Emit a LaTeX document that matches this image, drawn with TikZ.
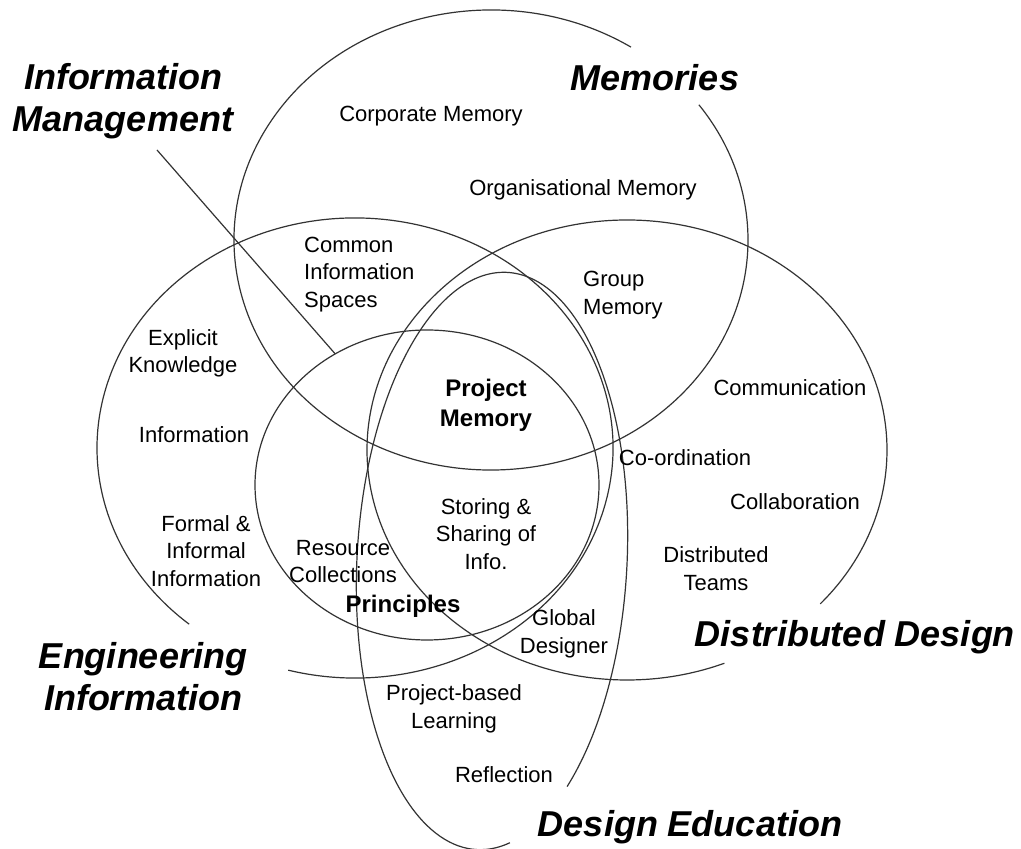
\documentclass[tikz,border=0pt]{standalone}
\usepackage{fontspec}
\setmainfont{Liberation Sans}
\usepackage{tikz}
\usetikzlibrary{shapes.geometric}

\begin{document}
\begin{tikzpicture}[
      x=1pt,y=1pt,
      set line/.style={
         line width=1.2pt,
         draw=black!80
      },
      set title/.style={
         font=\fontsize{36}{42}\selectfont\bfseries\itshape,
         align=center,
         inner sep=0pt
      },
      topic/.style={
         font=\fontsize{22}{27.5}\selectfont,
         align=center,
         inner sep=0pt
      },
      left topic/.style={topic, align=left, anchor=west},
      core topic/.style={
         font=\fontsize{24}{30}\selectfont\bfseries,
         align=center,
         inner sep=0pt
      }
    ]
    \useasboundingbox[fill=white] (0,0) rectangle (1021,849);
    % the five sets
    \draw[set line] (491,609) ++(57:257pt and 230pt)
       arc[start angle=57, end angle=396, x radius=257pt, y radius=230pt];
    \draw[set line] (355,401) ++(255:258pt and 230pt)
       arc[start angle=255, end angle=590, x radius=258pt, y radius=230pt];
    \draw[set line] (627,399) ++(-42:260pt and 230pt)
       arc[start angle=-42, end angle=292, x radius=260pt, y radius=230pt];
    \begin{scope}[shift={(492,288)}, rotate=-3]
      \draw[set line] (-50:135pt and 289pt)
         arc[start angle=-50, end angle=284, x radius=135pt, y radius=289pt];
    \end{scope}
    \node (principles set) [set line, draw, ellipse, minimum width=344pt, minimum height=310pt,
       inner sep=0pt, outer sep=0pt] at (427,364) {};

    % titles
    \node (infomgmt) [set title] at (123,748) {Information\\Management};
    \node (memories) [set title] at (655,771) {Memories};
    \node (enginfo) [set title] at (143,172) {Engineering\\Information};
    \node (distdesign) [set title] at (855,212) {Distributed Design};
    \node (designedu) [set title] at (690,22) {Design Education};

    \coordinate (infomgmt tail) at (157,699);
    \draw[set line] (infomgmt tail) -- (principles set.125.7);

    % topics
    \node (corporate) [topic] at (431,733) {Corporate Memory};
    \node (organisational) [topic] at (583,659) {Organisational Memory};
    \node (common) [left topic] at (304,574.5) {Common\\Information\\Spaces};
    \node (group) [left topic] at (583,554) {Group\\Memory};
    \node (explicit) [topic] at (183,495.5) {Explicit\\Knowledge};
    \node (information) [topic] at (194,414) {Information};
    \node (formal) [topic] at (206,298) {Formal \&\\Informal\\Information};
    \node (resource) [topic] at (343,287.5) {Resource\\Collections};
    \node (principles) [core topic] at (403,243) {Principles};
    \node (projmem) [core topic] at (486,444) {Project\\Memory};
    \node (storing) [topic] at (486,315) {Storing \&\\Sharing of\\Info.};
    \node (communication) [topic] at (790,461) {Communication};
    \node (coordination) [topic] at (685,391) {Co-ordination};
    \node (collaboration) [topic] at (795,347) {Collaboration};
    \node (teams) [topic] at (716,280.5) {Distributed\\Teams};
    \node (global) [topic] at (564,215) {Global\\Designer};
    \node (projbased) [topic] at (454,140) {Project-based\\Learning};
    \node (reflection) [topic] at (504,74) {Reflection};
\end{tikzpicture}
\end{document}
